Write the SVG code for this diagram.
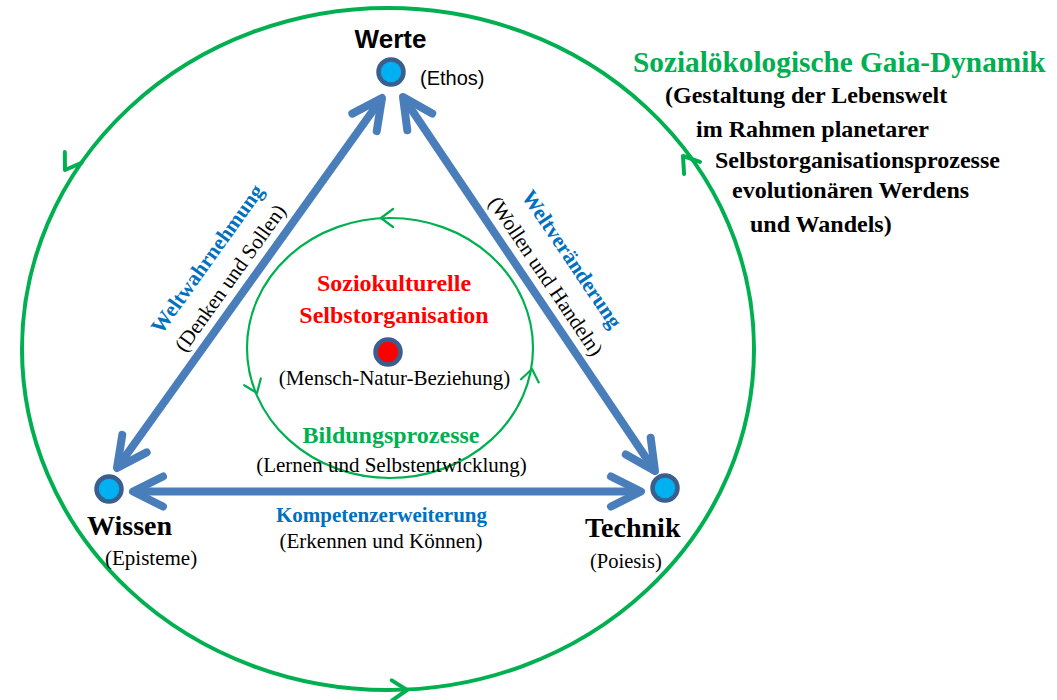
<svg xmlns="http://www.w3.org/2000/svg" width="1057" height="700" viewBox="0 0 1057 700">
<style>
.bg{fill:#ffffff}
.orbit{fill:none;stroke:#00B050}
.chev{fill:none;stroke:#00B050;stroke-linecap:round;stroke-linejoin:round}
.edge{stroke:#4A7EBB;stroke-width:8;fill:none}
.node{fill:#00B0F0;stroke:#3A5F8E;stroke-width:4.5}
.core{fill:#FF0000;stroke:#3A5F8E;stroke-width:4.5}
.sans{font-family:"Liberation Sans",Arial,sans-serif}
.serif{font-family:"Liberation Serif","Times New Roman",serif}
.b{font-weight:bold}
.blk{fill:#000000}
.blue{fill:#0070C0}
.green{fill:#00B050}
.red{fill:#FF0000}
</style>
<defs>
<marker id="ah" markerUnits="userSpaceOnUse" viewBox="-40 -25 50 50" markerWidth="50" markerHeight="50" refX="0" refY="0" orient="auto-start-reverse" overflow="visible">
<path d="M-30,-15 L0,0 L-30,15" fill="none" stroke="#4A7EBB" stroke-width="8" stroke-linecap="round" stroke-linejoin="round"/>
</marker>
</defs>
<rect class="bg" x="0" y="0" width="1057" height="700"/>

<g id="outer-cycle">
<ellipse class="orbit" cx="388" cy="349" rx="366" ry="341" stroke-width="4"/>
<path class="chev" stroke-width="4" d="M-15,-10 L0,0 L-15,10" transform="translate(65,170) rotate(123.1)"/>
<path class="chev" stroke-width="4" d="M-15,-10 L0,0 L-15,10" transform="translate(407,690) rotate(-1.3)"/>
<path class="chev" stroke-width="4" d="M-15,-10 L0,0 L-15,10" transform="translate(683,156) rotate(-127.1)"/>
</g>

<g id="inner-cycle">
<ellipse class="orbit" cx="390" cy="348" rx="143" ry="130" stroke-width="2.2"/>
<path class="chev" stroke-width="2.2" d="M-12,-9 L0,0 L-12,9" transform="translate(381,218) rotate(180)"/>
<path class="chev" stroke-width="2.2" d="M-12,-9 L0,0 L-12,9" transform="translate(257,393) rotate(67.9)"/>
<path class="chev" stroke-width="2.2" d="M-12,-9 L0,0 L-12,9" transform="translate(532,369) rotate(-79.8)"/>
</g>

<g id="connectors">
<line class="edge" x1="117" y1="468" x2="382" y2="98" marker-start="url(#ah)" marker-end="url(#ah)"/>
<line class="edge" x1="403" y1="97" x2="655" y2="471" marker-start="url(#ah)" marker-end="url(#ah)"/>
<line class="edge" x1="133" y1="491.5" x2="641" y2="491.5" marker-start="url(#ah)" marker-end="url(#ah)"/>
<text class="serif b blue" font-size="21.5" text-anchor="middle" transform="translate(213,263) rotate(-54.4)">Weltwahrnehmung</text>
<text class="serif blk" font-size="21" text-anchor="middle" transform="translate(236,282) rotate(-54.4)">(Denken und Sollen)</text>
<text class="serif b blue" font-size="21.5" text-anchor="middle" transform="translate(566,263) rotate(56)">Weltveränderung</text>
<text class="serif blk" font-size="21" text-anchor="middle" transform="translate(540,280) rotate(56)">(Wollen und Handeln)</text>
<text class="serif b blue" font-size="21" text-anchor="middle" x="381.5" y="522">Kompetenzerweiterung</text>
<text class="serif blk" font-size="21" text-anchor="middle" x="381" y="548">(Erkennen und Können)</text>
</g>

<g id="node-werte">
<circle class="node" cx="391" cy="72" r="12.5"/>
<text class="sans b blk" font-size="26" text-anchor="middle" x="390.5" y="48">Werte</text>
<text class="sans blk" font-size="20" x="420" y="85">(Ethos)</text>
</g>

<g id="node-wissen">
<circle class="node" cx="109" cy="489" r="12.5"/>
<text class="serif b blk" font-size="28" x="87" y="535">Wissen</text>
<text class="serif blk" font-size="21" x="105" y="565">(Episteme)</text>
</g>

<g id="node-technik">
<circle class="node" cx="665" cy="488" r="12.5"/>
<text class="serif b blk" font-size="28" x="585" y="537">Technik</text>
<text class="serif blk" font-size="20.5" x="590" y="568">(Poiesis)</text>
</g>

<g id="node-center">
<circle class="core" cx="388" cy="352" r="12.5"/>
<text class="serif b red" font-size="24" text-anchor="middle" x="394" y="291">Soziokulturelle</text>
<text class="serif b red" font-size="24" text-anchor="middle" x="394" y="323">Selbstorganisation</text>
<text class="serif blk" font-size="21" text-anchor="middle" x="394.5" y="385">(Mensch-Natur-Beziehung)</text>
</g>

<g id="label-bildung">
<text class="serif b green" font-size="24" text-anchor="middle" x="391" y="443">Bildungsprozesse</text>
<text class="serif blk" font-size="21" text-anchor="middle" x="391.5" y="472">(Lernen und Selbstentwicklung)</text>
</g>

<g id="label-gaia">
<text class="serif b green" font-size="29.3" x="633" y="72">Sozialökologische Gaia-Dynamik</text>
<text class="serif b blk" font-size="24" x="665" y="103">(Gestaltung der Lebenswelt</text>
<text class="serif b blk" font-size="24" x="696" y="137">im Rahmen planetarer</text>
<text class="serif b blk" font-size="24" x="715" y="168">Selbstorganisationsprozesse</text>
<text class="serif b blk" font-size="24" x="732" y="198">evolutionären Werdens</text>
<text class="serif b blk" font-size="24" x="750" y="232">und Wandels)</text>
</g>
</svg>
